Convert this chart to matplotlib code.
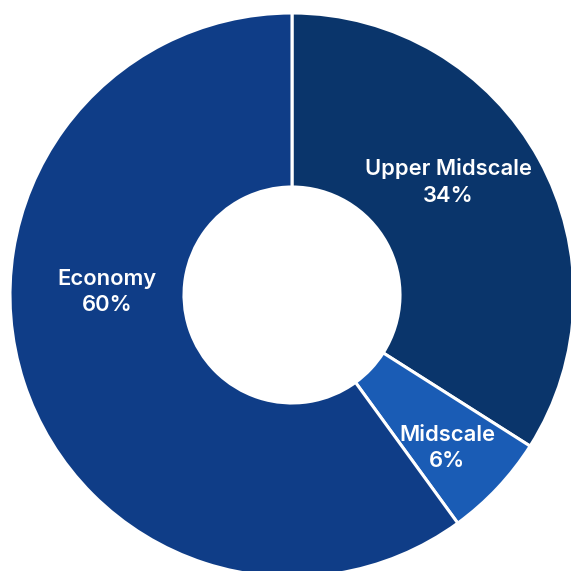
import matplotlib.pyplot as plt

# Segment data
segments = ["Upper Midscale", "Midscale", "Economy"]
shares = [34, 6, 60]
colors = ["#0A356B", "#1A5CB5", "#0F3D87"]

# label anchor points (pixels from top-left)
label_pos = [(448, 182), (447, 448), (107, 292)]

W = H = 571
fig = plt.figure(figsize=(W / 100, H / 100), dpi=100)
ax = fig.add_axes([0, 0, 1, 1])

cx, cy, r = 292, H - 295, 282
ax.pie(shares, colors=colors, startangle=90, counterclock=False,
       center=(cx, cy), radius=r, frame=True,
       wedgeprops=dict(width=r * 0.617, edgecolor="white", linewidth=2.2))
ax.set_xlim(0, W)
ax.set_ylim(0, H)
ax.set_aspect("equal")
ax.axis("off")

for name, val, (x, y) in zip(segments, shares, label_pos):
    ax.text(x, H - y, f"{name}\n{val}%", color="white", ha="center", va="center",
            fontsize=15.8, fontweight="semibold", family="Inter", linespacing=1.4)

fig.savefig("out.png", dpi=100)
